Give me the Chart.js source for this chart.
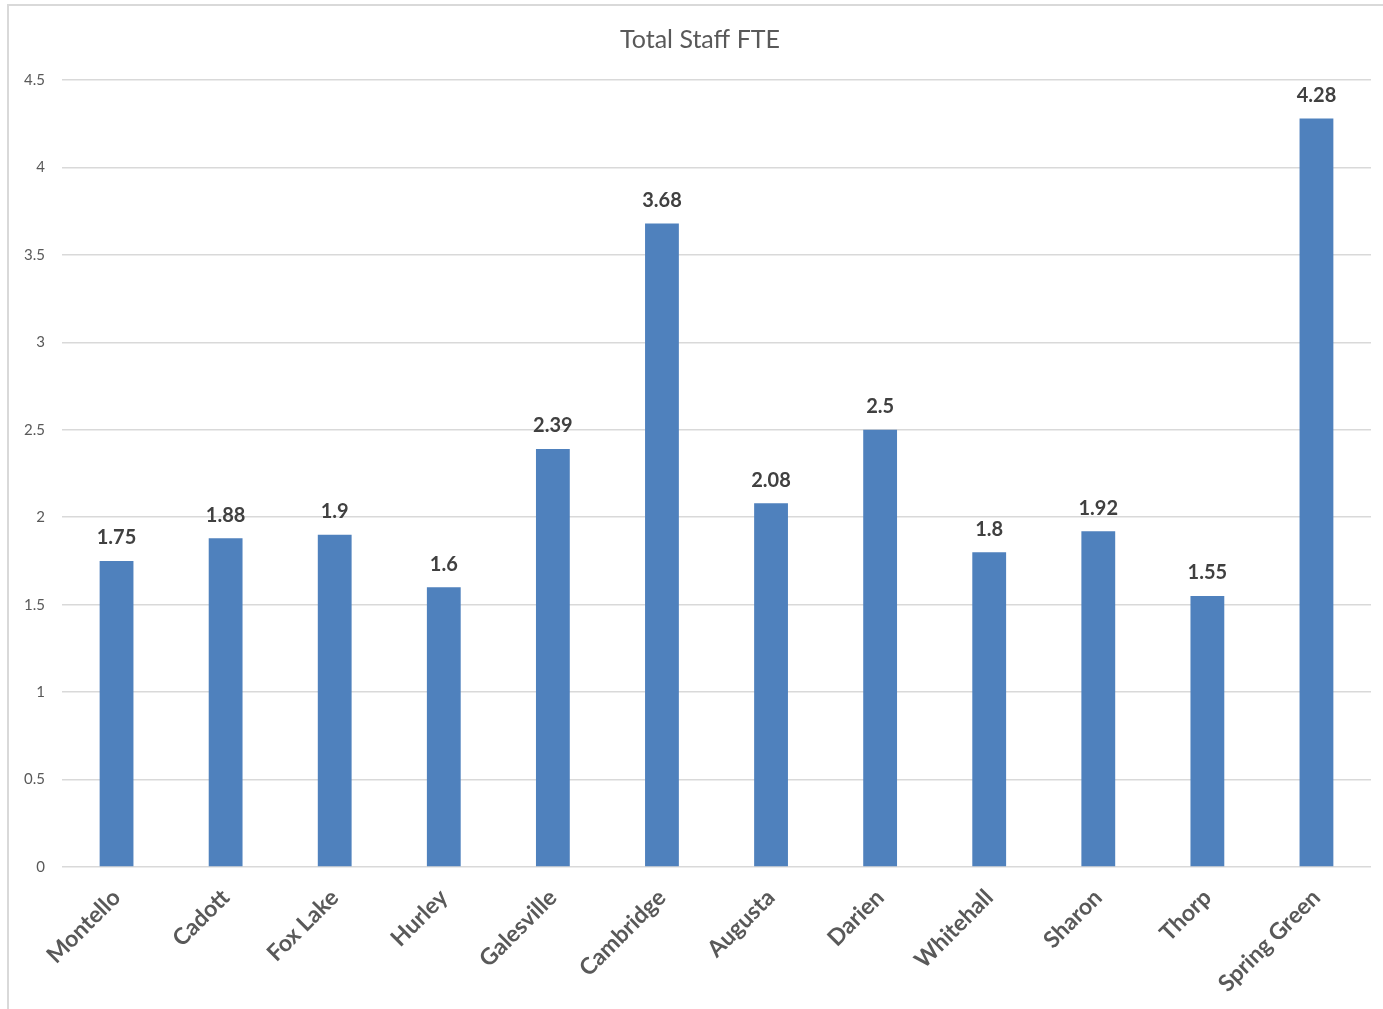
<!DOCTYPE html>
<html>
<head>
<meta charset="utf-8">
<script src="https://cdn.jsdelivr.net/npm/chart.js@4/dist/chart.umd.min.js"></script>
<style>
  html, body { margin: 0; padding: 0; background: #fff; overflow: hidden; }
  #wrap { position: absolute; left: 0; top: 0; width: 1383px; height: 1009px; }
  #frame { position: absolute; left: 7px; top: 4px; width: 1400px; height: 1100px;
           border-left: 2px solid #d9d9d9; border-top: 2px solid #d9d9d9; pointer-events: none; }
</style>
</head>
<body>
<div id="wrap">
  <canvas id="c" width="1383" height="1009"></canvas>
  <div id="frame"></div>
</div>
<script>
const chartTitle = "Total Staff FTE";
const categories = ["Montello", "Cadott", "Fox Lake", "Hurley", "Galesville", "Cambridge", "Augusta", "Darien", "Whitehall", "Sharon", "Thorp", "Spring Green"];
const fteValues = [1.75, 1.88, 1.9, 1.6, 2.39, 3.68, 2.08, 2.5, 1.8, 1.92, 1.55, 4.28];
const yTicks = [0, 0.5, 1, 1.5, 2, 2.5, 3, 3.5, 4, 4.5];

const FONT = "Lato, 'Open Sans', sans-serif";

const dataLabels = {
  id: 'dataLabels',
  afterDatasetsDraw(chart) {
    const ctx = chart.ctx;
    const meta = chart.getDatasetMeta(0);
    ctx.save();
    ctx.font = "bold 20px " + FONT;
    ctx.fillStyle = "#404040";
    ctx.textAlign = "center";
    ctx.textBaseline = "middle";
    meta.data.forEach((bar, i) => {
      ctx.fillText(String(fteValues[i]), bar.x, bar.y - 23);
    });
    ctx.restore();
  }
};

const titleText = {
  id: 'titleText',
  afterDraw(chart) {
    const ctx = chart.ctx;
    ctx.save();
    ctx.font = "25px " + FONT;
    ctx.fillStyle = "#595959";
    ctx.textAlign = "center";
    ctx.textBaseline = "middle";
    ctx.fillText(chartTitle, 700, 40);
    ctx.restore();
  }
};

new Chart(document.getElementById('c'), {
  type: 'bar',
  data: {
    labels: categories,
    datasets: [{
      label: chartTitle,
      data: fteValues,
      backgroundColor: '#4F81BD',
      borderWidth: 0,
      barPercentage: 0.62,
      categoryPercentage: 0.5
    }]
  },
  options: {
    responsive: false,
    animation: false,
    devicePixelRatio: 1,
    layout: { padding: { left: 0, right: 12, top: 80, bottom: 0 } },
    plugins: {
      legend: { display: false },
      tooltip: { enabled: false },
      title: { display: false }
    },
    scales: {
      y: {
        min: 0,
        max: 4.5,
        afterBuildTicks(scale) { scale.ticks = yTicks.map(v => ({ value: v })); },
        afterFit(scale) { scale.width = 62; scale.paddingTop = 0; },
        border: { display: false },
        grid: { color: '#d9d9d9', lineWidth: 1.5, drawTicks: false },
        ticks: {
          color: '#595959',
          padding: 17,
          font: { family: FONT, size: 15 },
          callback: (v) => String(v)
        }
      },
      x: {
        afterFit(scale) { scale.height = 142; },
        border: { display: false },
        grid: { display: false, drawTicks: false },
        ticks: {
          color: '#595959',
          minRotation: 45,
          maxRotation: 45,
          padding: 17,
          autoSkip: false,
          font: { family: FONT, size: 23, weight: 'bold' }
        }
      }
    }
  },
  plugins: [dataLabels, titleText]
});
</script>
</body>
</html>
